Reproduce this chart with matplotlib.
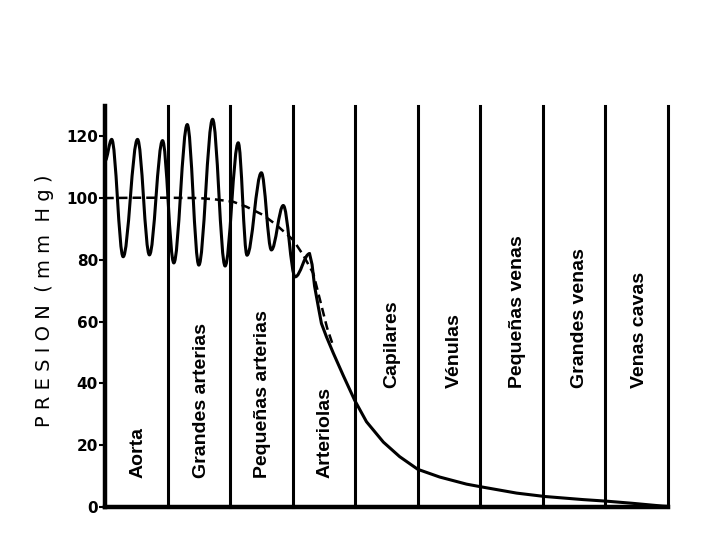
import matplotlib
matplotlib.use("Agg")
import matplotlib.pyplot as plt
from matplotlib.path import Path
from matplotlib.patches import PathPatch

# ---- data (x in vessel-segment units, y in mm Hg) ----
segments = ["Aorta", "Grandes arterias", "Pequeñas arterias", "Arteriolas",
            "Capilares", "Vénulas", "Pequeñas venas", "Grandes venas", "Venas cavas"]
label_base = [9.4, 9.4, 9.4, 9.4, 38.5, 38.5, 38.5, 38.5, 38.5]
label_x = [0.53, 1.55, 2.52, 3.51, 4.58, 5.59, 6.60, 7.59, 8.55]

# pulsatile pressure: successive peaks and troughs
wave_x = [0.0, 0.107, 0.29, 0.52, 0.71, 0.92, 1.10, 1.315, 1.50, 1.72, 1.92,
          2.13, 2.27, 2.50, 2.66, 2.85, 3.04, 3.27]
wave_y = [112, 119, 81, 119, 81.6, 118.6, 79, 123.8, 78.3, 125.5, 78,
          117.9, 81.5, 108.2, 83.2, 97.6, 74.5, 82]

# non-pulsatile decline after the arterioles
decay_x = [3.27, 3.31, 3.35, 3.41, 3.46, 3.54, 3.65, 3.81, 3.99, 4.18, 4.45,
           4.71, 5.00, 5.35, 5.78, 6.02, 6.58, 7.03, 7.64, 8.01, 8.43, 8.91, 9.0]
decay_y = [82, 78.5, 71.5, 64.8, 59.4, 55.1, 49.8, 42.5, 34.6, 27.6, 21.0,
           16.3, 12.2, 9.7, 7.4, 6.5, 4.5, 3.4, 2.4, 1.9, 1.2, 0.3, 0.2]

# mean pressure (dashed)
mean_x = [0.0, 0.5, 1.0, 1.5, 1.75, 2.05, 2.26, 2.53, 2.74, 3.01, 3.17, 3.33, 3.45, 3.55, 3.65]
mean_y = [100.0, 100.1, 100.1, 100.0, 99.6, 98.8, 97.2, 94.5, 91.3, 86.4, 81.5, 75.6, 66, 58, 52]

yticks = [0, 20, 40, 60, 80, 100, 120]

fig = plt.figure(figsize=(7.2, 5.4), dpi=100)
ax = fig.add_axes([105/720, 1-507/540, (668-105)/720, (507-106)/540])
ax.set_xlim(0, 9)
ax.set_ylim(0, 129.8)

for s in ["top", "right"]:
    ax.spines[s].set_visible(False)
ax.spines["left"].set_linewidth(3.2)
ax.spines["bottom"].set_linewidth(3.2)
ax.set_xticks([])
ax.set_yticks(yticks)
ax.set_yticklabels([str(v) for v in yticks], fontsize=11, fontweight="bold",
                   family="DejaVu Sans")
ax.tick_params(axis="y", direction="out", length=4, width=1.5, pad=1)

# segment boundaries
for i in range(1, 10):
    ax.axvline(i, color="black", lw=2.2, clip_on=False)

# pulsatile wave as smooth curve through extremes
verts = [(wave_x[0], wave_y[0])]
codes = [Path.MOVETO]
k = 0.36
for i in range(1, len(wave_x)):
    x0, y0 = wave_x[i-1], wave_y[i-1]
    x1, y1 = wave_x[i], wave_y[i]
    dx = x1 - x0
    verts += [(x0 + k*dx, y0), (x1 - k*dx, y1), (x1, y1)]
    codes += [Path.CURVE4]*3
ax.add_patch(PathPatch(Path(verts, codes), fill=False, lw=2.2, color="black",
                       capstyle="round", joinstyle="round"))

ax.plot(decay_x, decay_y, color="black", lw=2.2, solid_capstyle="round",
        solid_joinstyle="round")
ax.plot(mean_x, mean_y, color="black", lw=1.8, ls=(0, (3.5, 2)))

for name, x, y in zip(segments, label_x, label_base):
    ax.text(x, y, name, rotation=90, ha="center", va="bottom", fontsize=14,
            fontweight="bold", family=["Liberation Sans Narrow", "Liberation Sans", "DejaVu Sans"])

fig.text(45/720, 1-301/540, "P R E S I O N  ( m m  H g )", rotation=90,
         ha="center", va="center", fontsize=14, family="DejaVu Sans")

fig.savefig("out.png", dpi=100, facecolor="white")
